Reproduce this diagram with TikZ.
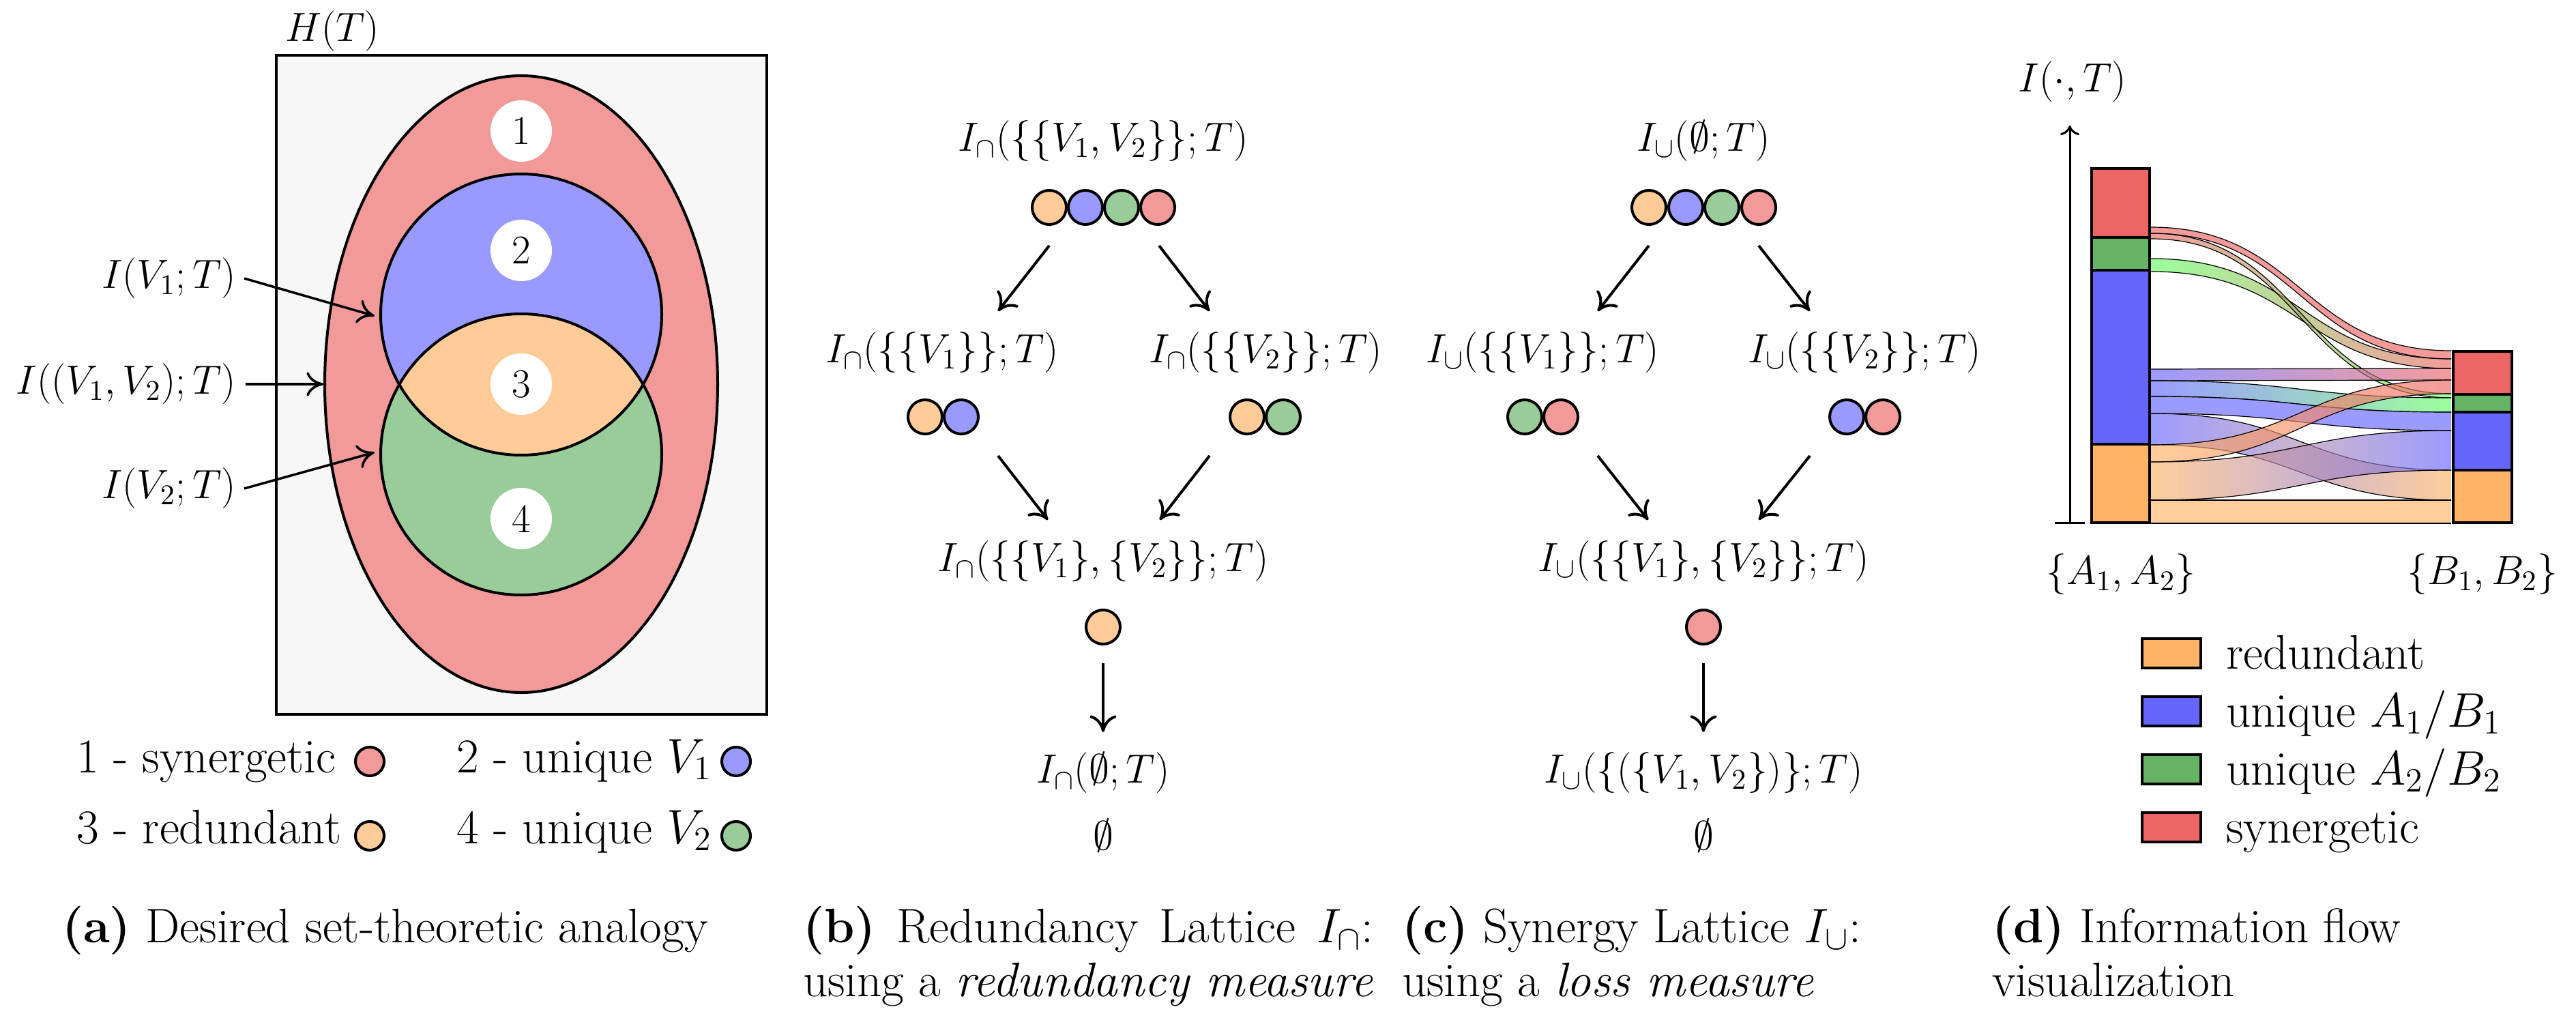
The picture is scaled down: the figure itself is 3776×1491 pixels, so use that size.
\RequirePackage{fix-cm}
\documentclass[tikz,border=0pt]{standalone}
\usetikzlibrary{arrows.meta}
\definecolor{bgA}{HTML}{F7F7F7}
\definecolor{pinkA}{HTML}{F29999}
\definecolor{blueA}{HTML}{9999FF}
\definecolor{orangeA}{HTML}{FFCC99}
\definecolor{greenA}{HTML}{99CC99}
\definecolor{barR}{HTML}{EC6666}
\definecolor{barG}{HTML}{66B366}
\definecolor{barB}{HTML}{6666FF}
\definecolor{barO}{HTML}{FFB366}
\definecolor{bndR}{HTML}{EC6666}
\definecolor{bndG}{HTML}{66FF66}
\definecolor{bndB}{HTML}{6666FF}
\definecolor{bndO}{HTML}{FFB366}
\newcommand{\sankeyband}[6]{%
  \shade[left color=#5, right color=#6, fill opacity=0.65]
    (3153,#1) .. controls (3373,#1) and (3373,#3) .. (3593,#3) -- (3593,#4)
    .. controls (3373,#4) and (3373,#2) .. (3153,#2) -- cycle;
  \draw[bandedge] (3153,#1) .. controls (3373,#1) and (3373,#3) .. (3593,#3);
  \draw[bandedge] (3153,#2) .. controls (3373,#2) and (3373,#4) .. (3593,#4);}
\tikzset{
  every node/.style={inner sep=0pt, outer sep=0pt},
  mlab/.style={font=\fontsize{17}{20}\selectfont},
  tlab/.style={font=\fontsize{20.2}{24}\selectfont},
  dot/.style={circle, draw, line width=0.04cm, minimum size=0.5cm},
  ldot/.style={circle, draw, line width=0.04cm, minimum size=0.42cm},
  numc/.style={circle, fill=white, minimum size=0.9cm, font=\fontsize{17}{20}\selectfont},
  arr/.style={line width=0.04cm, -{Computer Modern Rightarrow[length=7pt,width=11pt]}},
  arrA/.style={line width=0.035cm, -{Computer Modern Rightarrow[length=7pt,width=10pt]}},
  thick4/.style={line width=0.04cm},
  bandedge/.style={line width=0.012cm},
}
\begin{document}
\begin{tikzpicture}[x=0.01cm,y=-0.01cm]
\useasboundingbox (0,0) rectangle (3776,1491);

% ---------- panel (a) ----------
\node[mlab] (ht) at (487,46) {$H(T)$};
\fill[bgA] (405,81) rectangle (1124,1047);
\draw[line width=0.035cm] (405,81) rectangle (1124,1047);
\draw[thick4, fill=pinkA] (764,563) ellipse [x radius=288, y radius=452];
\fill[blueA] (764,461) circle [radius=206];
\fill[greenA] (764,666) circle [radius=206];
\begin{scope}
  \clip (764,461) circle [radius=206];
  \fill[orangeA] (764,666) circle [radius=206];
\end{scope}
\draw[thick4] (764,461) circle [radius=206];
\draw[thick4] (764,666) circle [radius=206];
\node[numc] (n1) at (764,192) {1};
\node[numc] (n2) at (764,367) {2};
\node[numc] (n3) at (764,563) {3};
\node[numc] (n4) at (764,760) {4};

\node[mlab, anchor=east] (lv1) at (346,408) {$I(V_1;T)$};
\node[mlab, anchor=east] (lv12) at (346,563) {$I((V_1,V_2);T)$};
\node[mlab, anchor=east] (lv2) at (346,716) {$I(V_2;T)$};
\coordinate (tv1) at (549,463);
\coordinate (tv12) at (474,563);
\coordinate (tv2) at (549,663);
\draw[arrA] ([xshift=0.12cm]lv1.east) -- (tv1);
\draw[arrA] ([xshift=0.14cm]lv12.east) -- (tv12);
\draw[arrA] ([xshift=0.12cm]lv2.east) -- (tv2);

\node[tlab, anchor=base west] (lg1) at (112,1132) {1 - synergetic};
\node[ldot, fill=pinkA] (lg1c) at (542,1116) {};
\node[tlab, anchor=base west] (lg2) at (669,1132) {2 - unique $V_1$};
\node[ldot, fill=blueA] (lg2c) at (1079,1116) {};
\node[tlab, anchor=base west] (lg3) at (112,1236) {3 - redundant};
\node[ldot, fill=orangeA] (lg3c) at (542,1225) {};
\node[tlab, anchor=base west] (lg4) at (669,1236) {4 - unique $V_2$};
\node[ldot, fill=greenA] (lg4c) at (1079,1225) {};

\node[tlab, anchor=base west] (capa) at (91,1381) {\textbf{(a)} Desired set-theoretic analogy};

% ---------- panel (b) ----------
\node[mlab] (b0) at (1617,207) {$I_\cap(\{\{V_1,V_2\}\};T)$};
\node[dot, fill=orangeA] (b0a) at (1538,304) {};
\node[dot, fill=blueA] (b0b) at (1591,304) {};
\node[dot, fill=greenA] (b0c) at (1644,304) {};
\node[dot, fill=pinkA] (b0d) at (1697,304) {};
\node[mlab] (b1) at (1381,517) {$I_\cap(\{\{V_1\}\};T)$};
\node[mlab] (b2) at (1855,517) {$I_\cap(\{\{V_2\}\};T)$};
\node[dot, fill=orangeA] (b1a) at (1356,611) {};
\node[dot, fill=blueA] (b1b) at (1409,611) {};
\node[dot, fill=orangeA] (b2a) at (1828,611) {};
\node[dot, fill=greenA] (b2b) at (1881,611) {};
\node[mlab] (b3) at (1617,823) {$I_\cap(\{\{V_1\},\{V_2\}\};T)$};
\node[dot, fill=orangeA] (b3a) at (1617,919) {};
\node[mlab] (b4) at (1617,1133) {$I_\cap(\emptyset;T)$};
\node[mlab] (b5) at (1617,1225) {$\emptyset$};
\coordinate (bs1) at (1538,360); \coordinate (be1) at (1463,456);
\coordinate (bs2) at (1699,360); \coordinate (be2) at (1773,456);
\coordinate (bs3) at (1463,668); \coordinate (be3) at (1536,762);
\coordinate (bs4) at (1773,668); \coordinate (be4) at (1700,762);
\coordinate (bs5) at (1617,972); \coordinate (be5) at (1617,1073);
\draw[arr] (bs1) -- (be1);
\draw[arr] (bs2) -- (be2);
\draw[arr] (bs3) -- (be3);
\draw[arr] (bs4) -- (be4);
\draw[arr] (bs5) -- (be5);

\node[tlab, anchor=base west] (capb1) at (1177,1381) {\makebox[8.36cm][s]{\textbf{(b)} Redundancy Lattice $I_\cap$:}};
\node[tlab, anchor=base west] (capb2) at (1177,1460) {using a \textit{redundancy measure}};

% ---------- panel (c) ----------
\node[mlab] (c0) at (2497,207) {$I_\cup(\emptyset;T)$};
\node[dot, fill=orangeA] (c0a) at (2417,304) {};
\node[dot, fill=blueA] (c0b) at (2471,304) {};
\node[dot, fill=greenA] (c0c) at (2524,304) {};
\node[dot, fill=pinkA] (c0d) at (2578,304) {};
\node[mlab] (c1) at (2261,517) {$I_\cup(\{\{V_1\}\};T)$};
\node[mlab] (c2) at (2733,517) {$I_\cup(\{\{V_2\}\};T)$};
\node[dot, fill=greenA] (c1a) at (2235,611) {};
\node[dot, fill=pinkA] (c1b) at (2288,611) {};
\node[dot, fill=blueA] (c2a) at (2707,611) {};
\node[dot, fill=pinkA] (c2b) at (2760,611) {};
\node[mlab] (c3) at (2497,823) {$I_\cup(\{\{V_1\},\{V_2\}\};T)$};
\node[dot, fill=pinkA] (c3a) at (2497,919) {};
\node[mlab] (c4) at (2497,1133) {$I_\cup(\{(\{V_1,V_2\})\};T)$};
\node[mlab] (c5) at (2497,1225) {$\emptyset$};
\coordinate (cs1) at (2417,360); \coordinate (ce1) at (2342,456);
\coordinate (cs2) at (2578,360); \coordinate (ce2) at (2653,456);
\coordinate (cs3) at (2342,668); \coordinate (ce3) at (2416,762);
\coordinate (cs4) at (2653,668); \coordinate (ce4) at (2578,762);
\coordinate (cs5) at (2497,972); \coordinate (ce5) at (2497,1073);
\draw[arr] (cs1) -- (ce1);
\draw[arr] (cs2) -- (ce2);
\draw[arr] (cs3) -- (ce3);
\draw[arr] (cs4) -- (ce4);
\draw[arr] (cs5) -- (ce5);

\node[tlab, anchor=base west] (capc1) at (2055,1381) {\textbf{(c)} Synergy Lattice $I_\cup$:};
\node[tlab, anchor=base west] (capc2) at (2055,1460) {using a \textit{loss measure}};

% ---------- panel (d) ----------
\node[mlab] (ly) at (3038,120) {$I(\cdot,T)$};
\draw[line width=0.03cm, -{Computer Modern Rightarrow[length=4pt,width=8pt]}] (3034,766) -- (3034,184);
\draw[line width=0.03cm] (3012,766) -- (3056,766);

\sankeyband{333}{342}{514}{526}{bndR}{bndR}
\sankeyband{379}{398}{526}{540}{bndG}{bndR}
\sankeyband{342}{350}{577}{583}{bndR}{bndG}
\sankeyband{541}{558}{540}{557}{bndB}{bndR}
\sankeyband{558}{581}{583}{604}{bndB}{bndG}
\sankeyband{581}{606}{604}{631}{bndB}{bndB}
\sankeyband{606}{652}{689}{733}{bndB}{bndO}
\sankeyband{652}{677}{557}{577}{bndO}{bndR}
\sankeyband{677}{733}{631}{689}{bndO}{bndB}
\sankeyband{733}{767}{733}{767}{bndO}{bndO}

\draw[thick4, fill=barR] (3066,247) rectangle (3151,348);
\draw[thick4, fill=barG] (3066,348) rectangle (3151,396);
\draw[thick4, fill=barB] (3066,396) rectangle (3151,651);
\draw[thick4, fill=barO] (3066,651) rectangle (3151,766);
\draw[thick4, fill=barR] (3596,515) rectangle (3682,578);
\draw[thick4, fill=barG] (3596,578) rectangle (3682,604);
\draw[thick4, fill=barB] (3596,604) rectangle (3682,689);
\draw[thick4, fill=barO] (3596,689) rectangle (3682,766);

\node[mlab] (la) at (3109,842) {$\{A_1,A_2\}$};
\node[mlab] (lb) at (3639,842) {$\{B_1,B_2\}$};

\draw[thick4, fill=barO] (3140,936) rectangle (3226,979);
\draw[thick4, fill=barB] (3140,1021) rectangle (3226,1064);
\draw[thick4, fill=barG] (3140,1106) rectangle (3226,1149);
\draw[thick4, fill=barR] (3140,1191) rectangle (3226,1234);
\node[tlab, anchor=base west] (ld1) at (3263,980) {redundant};
\node[tlab, anchor=base west] (ld2) at (3263,1065) {unique $A_1/B_1$};
\node[tlab, anchor=base west] (ld3) at (3263,1150) {unique $A_2/B_2$};
\node[tlab, anchor=base west] (ld4) at (3263,1235) {synergetic};

\node[tlab, anchor=base west] (capd1) at (2920,1381) {\textbf{(d)} Information flow};
\node[tlab, anchor=base west] (capd2) at (2920,1460) {visualization};
\end{tikzpicture}
\end{document}
